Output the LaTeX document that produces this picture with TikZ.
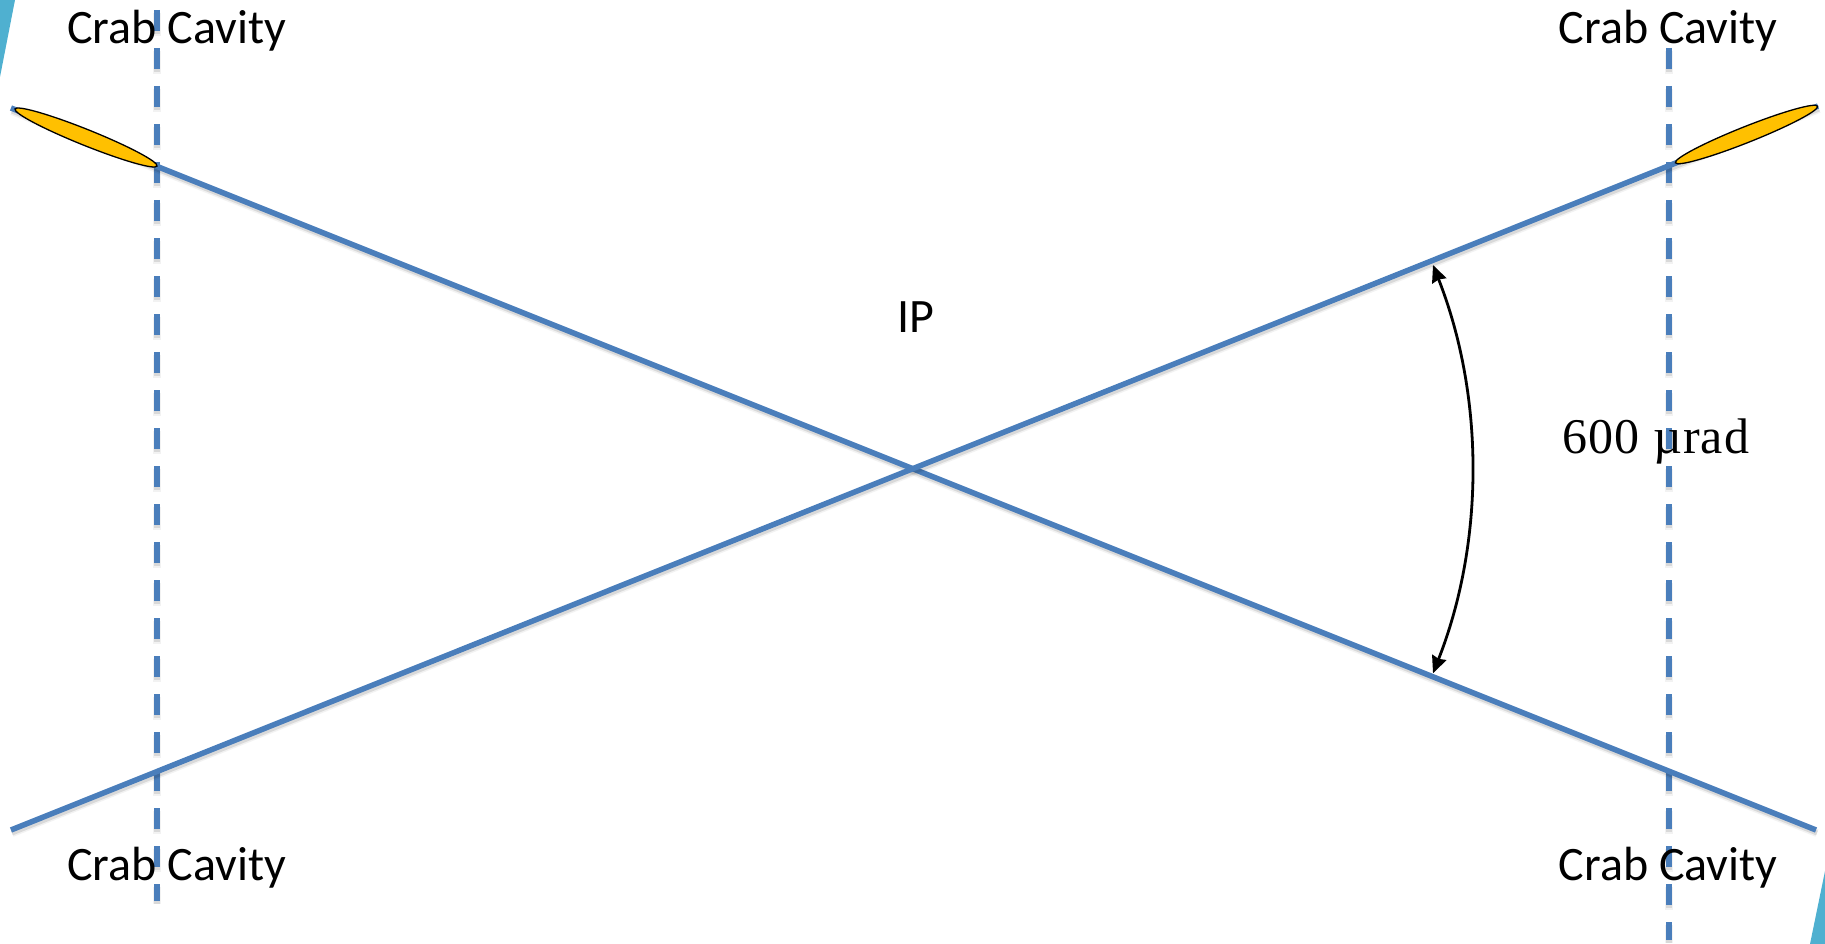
\documentclass[tikz,border=0pt]{standalone}
\usepackage{fontspec}
\setmainfont{Carlito}
\newfontfamily\mathlike[LetterSpace=2]{Liberation Serif}
\usetikzlibrary{arrows.meta,shapes.geometric}
\definecolor{beamblue}{HTML}{4A7EBB}
\definecolor{teal}{HTML}{4FB0D0}
\definecolor{bunch}{HTML}{FFC000}
\tikzset{
  x=1pt,y=-1pt,
  beam/.style={draw=beamblue,line width=5.5pt,
    preaction={draw=black,draw opacity=.05,line width=8pt,transform canvas={xshift=1pt,yshift=-3pt}},
    preaction={draw=black,draw opacity=.10,line width=5pt,transform canvas={xshift=1pt,yshift=-3pt}}},
  cavity/.style={draw=beamblue,line width=6pt,dash pattern=on 21pt off 17pt,
    preaction={draw=black,draw opacity=.05,line width=8pt,dash pattern=on 23pt off 15pt,transform canvas={xshift=0pt,yshift=-3pt}},
    preaction={draw=black,draw opacity=.10,line width=6pt,dash pattern=on 21pt off 17pt,transform canvas={xshift=0pt,yshift=-3pt}}},
  label/.style={font=\fontsize{48}{48}\selectfont,anchor=base,text=black,inner sep=0pt},
  bunchshape/.style={ellipse,draw=black,line width=1.3pt,fill=bunch,minimum width=153pt,minimum height=16pt,inner sep=0pt},
  anglearrow/.style={draw=black,line width=2.8pt,{Stealth[length=17pt,width=15pt,inset=1.5pt]}-{Stealth[length=17pt,width=15pt,inset=1.5pt]}},
  corner/.style={fill=teal,draw=none}
}
\begin{document}
\begin{tikzpicture}
\useasboundingbox (0,0) rectangle (1825,944);
\fill[corner] (0,0) -- (15,0) -- (0,77) -- cycle;
\fill[corner] (1825,871) -- (1825,944) -- (1810,944) -- cycle;
% cavities
\coordinate (cl1) at (157,10);
\coordinate (cl2) at (157,901);
\coordinate (cr1) at (1669,48);
\coordinate (cr2) at (1669,940);
\draw[cavity] (cl1) -- (cl2);
\draw[cavity] (cr1) -- (cr2);
% beams
\coordinate (a1) at (11,108);
\coordinate (a2) at (1816,830);
\coordinate (b1) at (11,830);
\coordinate (b2) at (1818,106);
\draw[beam] (a1) -- (a2);
\draw[beam] (b1) -- (b2);
% bunches
\node[bunchshape,rotate=-21.9] (bl) at (86,137.5) {};
\node[bunchshape,rotate=21.7] (br) at (1746.5,134.5) {};
% crossing angle
\coordinate (t1) at (1433,265);
\coordinate (t2) at (1433,673);
\draw[anglearrow] (t1) arc[start angle=-21.46,end angle=21.46,radius=558];
% labels
\node[label] (l1) at (176.5,44) {Crab Cavity};
\node[label] (l2) at (1668,44) {Crab Cavity};
\node[label] (l3) at (176.5,880) {Crab Cavity};
\node[label] (l4) at (1668,880) {Crab Cavity};
\node[label] (ip) at (916,332) {IP};
\node[label,font=\fontsize{50}{50}\selectfont\mathlike] (ang) at (1656,453) {600 µrad};
\end{tikzpicture}
\end{document}
